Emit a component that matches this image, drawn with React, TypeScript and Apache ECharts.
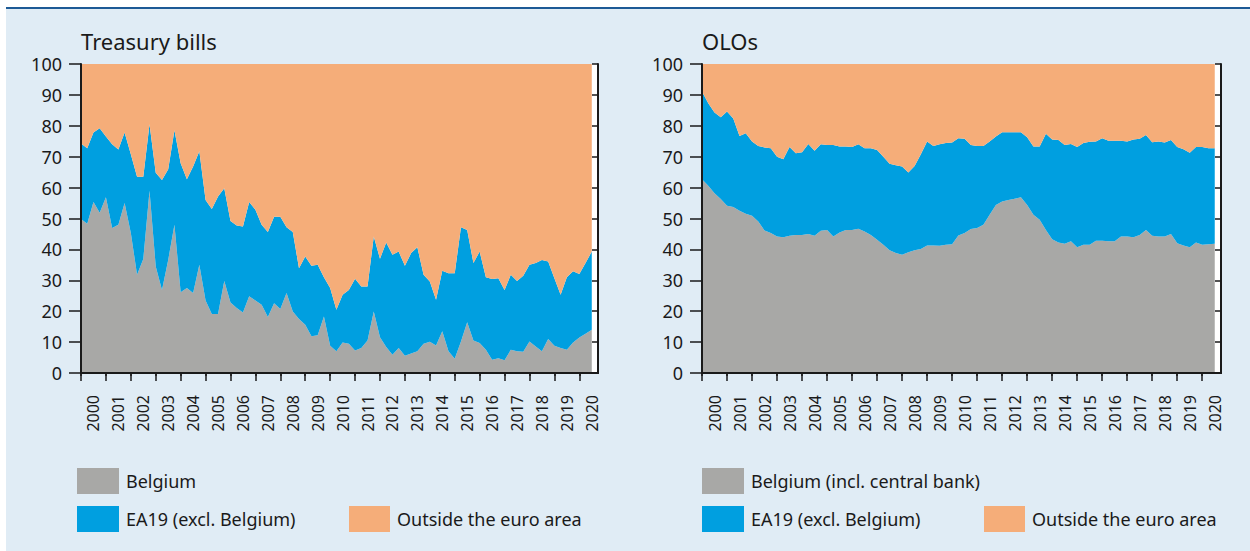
import React, { useEffect, useRef } from "react";
import * as echarts from "echarts";

const years = [2000, 2001, 2002, 2003, 2004, 2005, 2006, 2007, 2008, 2009, 2010, 2011, 2012, 2013, 2014, 2015, 2016, 2017, 2018, 2019, 2020];
const quarterNames = ["Q1", "Q2", "Q3", "Q4"];
const yTicks = [0, 10, 20, 30, 40, 50, 60, 70, 80, 90, 100];

// Treasury bills (% of outstanding), quarterly 2000 Q1 - 2020 Q3
const tbBelgium = [49.8, 48.3, 55.3, 51.9, 56.9, 46.9, 48.0, 55.0, 45.3, 31.8, 36.9, 59.0, 34.5, 26.9, 36.6, 48.0, 26.1, 27.5, 25.9, 35.0, 23.5, 19.1, 19.1, 29.8, 22.8, 21.0, 19.6, 24.8, 23.5, 22.1, 18.1, 22.6, 20.7, 25.9, 19.9, 17.5, 15.6, 11.9, 12.2, 18.3, 8.8, 7.0, 9.9, 9.5, 7.3, 8.1, 10.5, 19.9, 11.6, 8.4, 5.9, 8.1, 5.6, 6.3, 7.0, 9.5, 10.1, 8.9, 13.5, 7.0, 4.6, 10.2, 16.4, 10.5, 9.7, 7.5, 4.3, 4.8, 4.1, 7.5, 7.0, 6.9, 10.2, 8.6, 7.0, 11.0, 8.8, 8.1, 7.5, 9.9, 11.5, 12.7, 14.0];
const tbEA19 = [24.5, 24.4, 22.5, 27.3, 19.6, 27.1, 24.3, 22.8, 25.5, 31.7, 26.6, 21.5, 30.3, 35.6, 29.3, 30.6, 41.8, 35.2, 40.9, 36.8, 32.5, 34.0, 38.0, 30.0, 26.4, 26.7, 27.8, 30.5, 29.3, 25.9, 27.5, 28.0, 29.9, 21.3, 25.7, 16.4, 22.1, 22.8, 22.8, 12.7, 18.7, 13.5, 15.4, 17.4, 23.2, 19.9, 17.5, 24.3, 25.4, 33.8, 32.4, 31.2, 29.1, 32.5, 33.7, 22.3, 19.5, 14.8, 19.6, 25.3, 27.7, 37.0, 29.9, 25.1, 29.6, 23.5, 26.1, 25.9, 22.8, 24.3, 22.8, 24.6, 24.8, 27.0, 29.6, 25.1, 21.9, 17.2, 23.5, 23.0, 20.5, 22.9, 25.3];
const tbOutside = [25.7, 27.3, 22.2, 20.8, 23.5, 26.0, 27.7, 22.2, 29.2, 36.5, 36.5, 19.5, 35.2, 37.5, 34.1, 21.4, 32.1, 37.3, 33.2, 28.2, 44.0, 46.9, 42.9, 40.2, 50.8, 52.3, 52.6, 44.7, 47.2, 52.0, 54.4, 49.4, 49.4, 52.8, 54.4, 66.1, 62.3, 65.3, 65.0, 69.0, 72.5, 79.5, 74.7, 73.1, 69.5, 72.0, 72.0, 55.8, 63.0, 57.8, 61.7, 60.7, 65.3, 61.2, 59.3, 68.2, 70.4, 76.3, 66.9, 67.7, 67.7, 52.8, 53.7, 64.4, 60.7, 69.0, 69.6, 69.3, 73.1, 68.2, 70.2, 68.5, 65.0, 64.4, 63.4, 63.9, 69.3, 74.7, 69.0, 67.1, 68.0, 64.4, 60.7];

// OLOs (% of outstanding), quarterly 2000 Q1 - 2020 Q3
const oloBelgium = [62.7, 60.6, 58.2, 56.3, 54.1, 53.7, 52.5, 51.5, 50.9, 49.0, 46.1, 45.3, 44.2, 43.9, 44.4, 44.7, 44.7, 45.0, 44.4, 46.0, 46.3, 44.2, 45.5, 46.3, 46.3, 46.7, 45.8, 44.7, 43.1, 41.5, 39.7, 38.8, 38.3, 39.1, 39.7, 40.1, 41.3, 41.3, 41.2, 41.5, 41.7, 44.5, 45.3, 46.6, 46.9, 48.0, 51.2, 54.4, 55.5, 56.0, 56.4, 56.9, 54.4, 51.2, 49.6, 46.3, 43.3, 42.2, 41.8, 42.6, 40.7, 41.5, 41.5, 42.8, 42.8, 42.6, 42.6, 44.2, 44.2, 43.9, 44.7, 46.3, 44.4, 44.2, 44.2, 45.0, 42.0, 41.3, 40.7, 42.2, 41.5, 41.7, 41.8];
const oloEA19 = [28.4, 26.7, 26.1, 26.5, 30.5, 28.7, 24.2, 26.1, 24.0, 24.5, 26.9, 27.4, 25.8, 25.3, 28.7, 26.4, 26.7, 29.1, 27.5, 28.0, 27.5, 29.6, 27.8, 27.0, 26.8, 27.3, 26.9, 28.0, 29.1, 28.5, 28.0, 28.4, 28.5, 25.8, 27.3, 30.7, 33.6, 32.2, 32.8, 32.9, 32.9, 31.5, 30.5, 27.2, 26.6, 25.5, 23.7, 22.1, 22.4, 21.9, 21.5, 21.0, 21.9, 22.1, 23.7, 31.1, 32.3, 33.2, 32.0, 31.5, 32.4, 32.9, 33.3, 32.1, 33.2, 32.6, 32.6, 31.0, 30.7, 31.7, 31.1, 30.7, 30.3, 30.7, 30.4, 30.4, 31.1, 31.1, 30.6, 30.9, 31.6, 31.0, 30.9];
const oloOutside = [8.9, 12.7, 15.7, 17.2, 15.4, 17.6, 23.3, 22.4, 25.1, 26.5, 27.0, 27.3, 30.0, 30.8, 26.9, 28.9, 28.6, 25.9, 28.1, 26.0, 26.2, 26.2, 26.7, 26.7, 26.9, 26.0, 27.3, 27.3, 27.8, 30.0, 32.3, 32.8, 33.2, 35.1, 33.0, 29.2, 25.1, 26.5, 26.0, 25.6, 25.4, 24.0, 24.2, 26.2, 26.5, 26.5, 25.1, 23.5, 22.1, 22.1, 22.1, 22.1, 23.7, 26.7, 26.7, 22.6, 24.4, 24.6, 26.2, 25.9, 26.9, 25.6, 25.2, 25.1, 24.0, 24.8, 24.8, 24.8, 25.1, 24.4, 24.2, 23.0, 25.3, 25.1, 25.4, 24.6, 26.9, 27.6, 28.7, 26.9, 26.9, 27.3, 27.3];

const titles = ["Treasury bills", "OLOs"];
const belgiumNames = ["Belgium", "Belgium (incl. central bank)"];
const ea19Name = "EA19 (excl. Belgium)";
const outsideName = "Outside the euro area";

const GREY = "#a8a8a6";
const BLUE = "#009fe0";
const ORANGE = "#f5ad79";
const INK = "#1a1a1a";
const FONT = "Noto Sans";

export default function App() {
  const ref = useRef<HTMLDivElement>(null);

  useEffect(() => {
    if (!ref.current) return;
    const chart = echarts.init(ref.current, undefined, { renderer: "svg" });

    const quarters = years.flatMap((y) => quarterNames.map((q) => `${y} ${q}`));
    const grids = [
      { left: 81, top: 64, width: 517, height: 309 },
      { left: 702, top: 64, width: 519, height: 309 },
    ];

    const xAxes: any[] = [];
    const yAxes: any[] = [];
    grids.forEach((_, g) => {
      xAxes.push({
        type: "category",
        gridIndex: g,
        position: "bottom",
        data: quarters,
        boundaryGap: false,
        z: 3,
        axisLine: { show: true, lineStyle: { color: INK, width: 2 } },
        axisTick: { show: true, inside: false, length: 8, interval: (i: number) => i % 4 === 0, lineStyle: { color: INK, width: 1.5 } },
        axisLabel: {
          show: true,
          interval: (i: number) => i % 4 === 2,
          formatter: (v: string) => v.slice(0, 4),
          rotate: 90,
          margin: 22,
          fontSize: 16,
          fontFamily: FONT,
          color: INK,
        },
        splitLine: { show: false },
      });
      xAxes.push({
        type: "category",
        gridIndex: g,
        position: "top",
        data: quarters,
        boundaryGap: false,
        z: 3,
        axisLine: { show: true, lineStyle: { color: INK, width: 2 } },
        axisTick: { show: true, inside: true, length: 3, interval: (i: number) => i % 4 === 0, lineStyle: { color: INK, width: 1.5 } },
        axisLabel: { show: false },
        splitLine: { show: false },
      });
      yAxes.push({
        type: "value",
        gridIndex: g,
        position: "left",
        min: yTicks[0],
        max: yTicks[yTicks.length - 1],
        interval: 10,
        z: 3,
        axisLine: { show: true, lineStyle: { color: INK, width: 2 } },
        axisTick: { show: true, inside: false, length: 12, lineStyle: { color: INK, width: 1.5 } },
        axisLabel: { show: true, margin: 19, fontSize: 18, fontFamily: FONT, color: INK },
        splitLine: { show: false },
      });
      yAxes.push({
        type: "value",
        gridIndex: g,
        position: "right",
        min: yTicks[0],
        max: yTicks[yTicks.length - 1],
        interval: 10,
        z: 1,
        axisLine: { show: true, lineStyle: { color: INK, width: 2 } },
        axisTick: { show: true, inside: true, length: 6, lineStyle: { color: INK, width: 1.5 } },
        axisLabel: { show: false },
        splitLine: { show: false },
      });
    });

    const mk = (name: string, data: number[], color: string, g: number, stack: string) => ({
      type: "line",
      name,
      data,
      xAxisIndex: g * 2,
      yAxisIndex: g * 2,
      stack,
      symbol: "none",
      showSymbol: false,
      z: 2,
      lineStyle: { width: 0, color },
      itemStyle: { color },
      areaStyle: { color, opacity: 1 },
      emphasis: { disabled: true },
    });

    const series = [
      mk(belgiumNames[0], tbBelgium, GREY, 0, "tb"),
      mk(ea19Name, tbEA19, BLUE, 0, "tb"),
      mk(outsideName, tbOutside, ORANGE, 0, "tb"),
      mk(belgiumNames[1], oloBelgium, GREY, 1, "olo"),
      mk(ea19Name, oloEA19, BLUE, 1, "olo"),
      mk(outsideName, oloOutside, ORANGE, 1, "olo"),
    ];

    const textStyle = (text: string, x: number, y: number, size: number) => ({
      type: "text",
      x,
      y,
      style: { text, fill: INK, fontSize: size, fontFamily: FONT, textVerticalAlign: "middle", verticalAlign: "middle", align: "left" },
    });
    const box = (x: number, y: number, w: number, color: string) => ({
      type: "rect",
      shape: { x, y, width: w, height: 26 },
      style: { fill: color },
    });

    const graphic: any[] = [
      { type: "rect", z: -10, shape: { x: 6, y: 9, width: 1244, height: 542 }, style: { fill: "#e0ecf5" } },
      { type: "rect", z: -9, shape: { x: 6, y: 7, width: 1244, height: 2 }, style: { fill: "#1d5a96" } },
      textStyle(titles[0], 81, 41, 22),
      textStyle(titles[1], 702, 41, 22),
      // left legend
      box(77, 468, 42, GREY),
      textStyle(belgiumNames[0], 126, 481, 18),
      box(77, 506, 42, BLUE),
      textStyle(ea19Name, 126, 519, 18),
      box(349, 506, 41, ORANGE),
      textStyle(outsideName, 397, 519, 18),
      // right legend
      box(702, 468, 42, GREY),
      textStyle(belgiumNames[1], 751, 481, 18),
      box(702, 506, 42, BLUE),
      textStyle(ea19Name, 751, 519, 18),
      box(984, 506, 41, ORANGE),
      textStyle(outsideName, 1032, 519, 18),
    ];

    chart.setOption({
      animation: false,
      backgroundColor: "#ffffff",
      grid: grids.map((g) => ({ ...g, show: true, backgroundColor: "#ffffff", borderWidth: 0, z: 0 })),
      xAxis: xAxes,
      yAxis: yAxes,
      series,
      graphic,
    });

    return () => chart.dispose();
  }, []);

  return <div ref={ref} style={{ position: "absolute", left: 0, top: 0, width: 1250, height: 551 }} />;
}
